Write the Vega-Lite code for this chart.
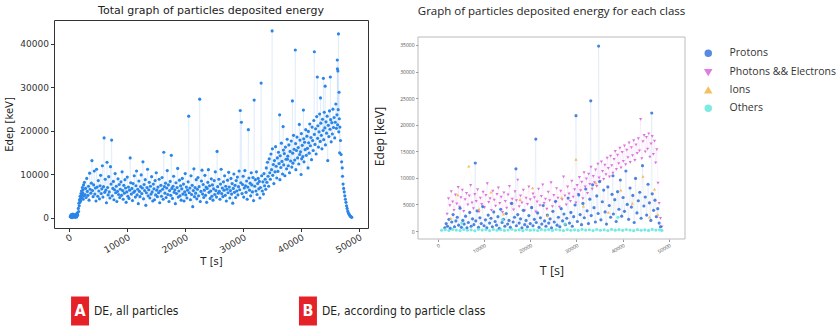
{
  "$schema": "https://vega.github.io/schema/vega-lite/v6.json",
  "background": "white",
  "padding": {"left": 4, "top": 4, "right": 0, "bottom": 0},
  "spacing": 18,
  "config": {
    "view": {"stroke": null},
    "axis": {"grid": false}
  },
  "vconcat": [
    {
      "spacing": 4,
      "hconcat": [
        {
          "width": 314,
          "height": 208,
          "title": {"text": "Total graph of particles deposited energy", "font": "DejaVu Sans", "fontSize": 11, "fontWeight": "normal", "color": "#222", "offset": 4},
          "view": {"stroke": "#333", "strokeWidth": 1},
          "data": {"values": [
            {"t":200,"e":300},{"t":300,"e":600},{"t":350,"e":150},{"t":400,"e":800},{"t":450,"e":400},{"t":500,"e":100},{"t":550,"e":700},{"t":600,"e":350},{"t":650,"e":900},{"t":700,"e":200},{"t":750,"e":500},{"t":800,"e":650},{"t":850,"e":250},{"t":900,"e":450},{"t":950,"e":750},{"t":1000,"e":300},{"t":1050,"e":550},{"t":1100,"e":150},{"t":1150,"e":850},{"t":1200,"e":400},{"t":1250,"e":600},{"t":1300,"e":250},{"t":1350,"e":950},{"t":1400,"e":500},{"t":1450,"e":1200},{"t":1500,"e":700},
            {"t":1600,"e":2200},{"t":1650,"e":1500},{"t":1700,"e":3400},{"t":1750,"e":2800},{"t":1800,"e":4200},{"t":1850,"e":3600},{"t":1900,"e":5000},{"t":1950,"e":4400},{"t":2000,"e":3900},{"t":2050,"e":5600},{"t":2100,"e":4800},{"t":2150,"e":6200},{"t":2200,"e":5300},{"t":2250,"e":4600},{"t":2300,"e":7000},{"t":2350,"e":5800},{"t":2400,"e":6500},{"t":2450,"e":4300},{"t":2500,"e":7600},{"t":2550,"e":5100},
            {"t":2650,"e":8200},{"t":2750,"e":5400},{"t":2850,"e":6800},{"t":2950,"e":4700},{"t":3050,"e":9100},{"t":3150,"e":6100},{"t":3250,"e":5200},{"t":3350,"e":7300},{"t":3450,"e":4100},{"t":3550,"e":10300},{"t":3650,"e":6600},{"t":3750,"e":5700},{"t":3850,"e":8000},{"t":3950,"e":13200},{"t":4050,"e":6300},{"t":4150,"e":4900},{"t":4250,"e":7600},{"t":4350,"e":10800},{"t":4450,"e":5500},{"t":4550,"e":6900},{"t":4650,"e":3900},{"t":4750,"e":11200},{"t":4850,"e":7100},{"t":4950,"e":5000},{"t":5050,"e":8600},{"t":5150,"e":6200},{"t":5250,"e":4400},{"t":5350,"e":7400},{"t":5450,"e":9800},{"t":5550,"e":5600},{"t":5650,"e":6700},{"t":5750,"e":12000},{"t":5850,"e":4800},{"t":5950,"e":7200},{"t":6050,"e":18400},{"t":6150,"e":5900},{"t":6250,"e":8900},{"t":6350,"e":6400},{"t":6450,"e":3500},{"t":6550,"e":12800},{"t":6650,"e":7000},{"t":6750,"e":5300},{"t":6850,"e":9500},{"t":6950,"e":6000},{"t":7050,"e":4600},{"t":7150,"e":11800},{"t":7250,"e":7800},{"t":7350,"e":17900},{"t":7450,"e":5100},{"t":7550,"e":6800},{"t":7650,"e":8400},{"t":7750,"e":4200},{"t":7850,"e":6500},{"t":7950,"e":10200},{"t":8050,"e":5800},{"t":8150,"e":7300},{"t":8250,"e":3800},{"t":8350,"e":6100},{"t":8450,"e":9000},{"t":8550,"e":5400},{"t":8650,"e":7700},{"t":8750,"e":4700},{"t":8850,"e":6600},{"t":8950,"e":8300},{"t":9050,"e":5200},{"t":9150,"e":10600},{"t":9250,"e":6300},{"t":9350,"e":4300},{"t":9450,"e":7500},{"t":9550,"e":5700},{"t":9650,"e":8800},{"t":9750,"e":6900},{"t":9850,"e":3600},{"t":9950,"e":6000},
            {"t":10050,"e":9400},{"t":10150,"e":5000},{"t":10250,"e":7100},{"t":10350,"e":4500},{"t":10450,"e":6400},{"t":10550,"e":13800},{"t":10650,"e":8100},{"t":10750,"e":5500},{"t":10850,"e":6800},{"t":10950,"e":4000},{"t":11050,"e":7900},{"t":11150,"e":5900},{"t":11250,"e":9700},{"t":11350,"e":6200},{"t":11450,"e":4800},{"t":11550,"e":7400},{"t":11650,"e":10800},{"t":11750,"e":5300},{"t":11850,"e":6600},{"t":11950,"e":3300},{"t":12050,"e":8500},{"t":12150,"e":6100},{"t":12250,"e":4900},{"t":12350,"e":7200},{"t":12450,"e":9900},{"t":12550,"e":5600},{"t":12650,"e":6900},{"t":12750,"e":12900},{"t":12850,"e":4400},{"t":12950,"e":7700},{"t":13050,"e":6300},{"t":13150,"e":8800},{"t":13250,"e":2900},{"t":13350,"e":5800},{"t":13450,"e":7000},{"t":13550,"e":11200},{"t":13650,"e":5100},{"t":13750,"e":6500},{"t":13850,"e":8200},{"t":13950,"e":4600},{"t":14050,"e":7300},{"t":14150,"e":5500},{"t":14250,"e":9500},{"t":14350,"e":6000},{"t":14450,"e":3900},{"t":14550,"e":7800},{"t":14650,"e":6700},{"t":14750,"e":4200},{"t":14850,"e":8600},{"t":14950,"e":5300},{"t":15050,"e":10400},{"t":15150,"e":6400},{"t":15250,"e":4900},{"t":15350,"e":7100},{"t":15450,"e":5800},{"t":15550,"e":8900},{"t":15650,"e":3500},{"t":15750,"e":6200},{"t":15850,"e":7500},{"t":15950,"e":5000},{"t":16050,"e":9300},{"t":16150,"e":6600},{"t":16250,"e":4300},{"t":16350,"e":15100},{"t":16450,"e":7200},{"t":16550,"e":5700},{"t":16650,"e":8000},{"t":16750,"e":4700},{"t":16850,"e":6900},{"t":16950,"e":10900},{"t":17050,"e":5400},{"t":17150,"e":7600},{"t":17250,"e":3800},{"t":17350,"e":6300},{"t":17450,"e":8400},{"t":17550,"e":5200},{"t":17650,"e":14400},{"t":17750,"e":6800},{"t":17850,"e":4500},{"t":17950,"e":7300},{"t":18050,"e":9600},{"t":18150,"e":5900},{"t":18250,"e":6500},{"t":18350,"e":3300},{"t":18450,"e":8100},{"t":18550,"e":5600},{"t":18650,"e":7000},{"t":18750,"e":11400},{"t":18850,"e":4800},{"t":18950,"e":6200},{"t":19050,"e":8700},{"t":19150,"e":5100},{"t":19250,"e":7400},{"t":19350,"e":4100},{"t":19450,"e":6700},{"t":19550,"e":9100},{"t":19650,"e":5500},{"t":19750,"e":7800},{"t":19850,"e":3900},{"t":19950,"e":6000},
            {"t":20050,"e":10200},{"t":20150,"e":5300},{"t":20250,"e":7100},{"t":20350,"e":4600},{"t":20450,"e":6400},{"t":20550,"e":8300},{"t":20650,"e":23400},{"t":20750,"e":5800},{"t":20850,"e":6900},{"t":20950,"e":4200},{"t":21050,"e":9700},{"t":21150,"e":5400},{"t":21250,"e":7500},{"t":21350,"e":2600},{"t":21450,"e":6300},{"t":21550,"e":11300},{"t":21650,"e":4900},{"t":21750,"e":7000},{"t":21850,"e":5700},{"t":21950,"e":8800},{"t":22050,"e":4400},{"t":22150,"e":6600},{"t":22250,"e":9300},{"t":22350,"e":5100},{"t":22450,"e":7200},{"t":22550,"e":27300},{"t":22650,"e":3800},{"t":22750,"e":6100},{"t":22850,"e":8500},{"t":22950,"e":11000},{"t":23050,"e":5500},{"t":23150,"e":7700},{"t":23250,"e":4700},{"t":23350,"e":6400},{"t":23450,"e":9800},{"t":23550,"e":5200},{"t":23650,"e":7100},{"t":23750,"e":3600},{"t":23850,"e":6800},{"t":23950,"e":8200},{"t":24050,"e":11100},{"t":24150,"e":5900},{"t":24250,"e":7400},{"t":24350,"e":4500},{"t":24450,"e":6200},{"t":24550,"e":9000},{"t":24650,"e":5000},{"t":24750,"e":7600},{"t":24850,"e":4100},{"t":24950,"e":6700},{"t":25050,"e":8600},{"t":25150,"e":5400},{"t":25250,"e":10600},{"t":25350,"e":6300},{"t":25450,"e":4800},{"t":25550,"e":15300},{"t":25650,"e":7200},{"t":25750,"e":5700},{"t":25850,"e":8900},{"t":25950,"e":6100},{"t":26050,"e":4300},{"t":26150,"e":7800},{"t":26250,"e":11200},{"t":26350,"e":5600},{"t":26450,"e":6900},{"t":26550,"e":4900},{"t":26650,"e":8300},{"t":26750,"e":6400},{"t":26850,"e":9700},{"t":26950,"e":5200},{"t":27050,"e":7300},{"t":27150,"e":3900},{"t":27250,"e":6600},{"t":27350,"e":8700},{"t":27450,"e":5800},{"t":27550,"e":10500},{"t":27650,"e":7100},{"t":27750,"e":4600},{"t":27850,"e":6300},{"t":27950,"e":9100},{"t":28050,"e":5500},{"t":28150,"e":7900},{"t":28250,"e":3400},{"t":28350,"e":6800},{"t":28450,"e":10100},{"t":28550,"e":5900},{"t":28650,"e":7500},{"t":28750,"e":4700},{"t":28850,"e":8600},{"t":28950,"e":6200},{"t":29050,"e":9400},{"t":29150,"e":5300},{"t":29250,"e":7200},{"t":29350,"e":10800},{"t":29450,"e":6500},{"t":29550,"e":24700},{"t":29650,"e":8100},{"t":29750,"e":22000},{"t":29850,"e":5600},{"t":29950,"e":7700},
            {"t":30050,"e":9600},{"t":30150,"e":4800},{"t":30250,"e":6900},{"t":30350,"e":10900},{"t":30450,"e":7400},{"t":30550,"e":5900},{"t":30650,"e":8500},{"t":30750,"e":4300},{"t":30850,"e":7100},{"t":30950,"e":20300},{"t":31050,"e":9200},{"t":31150,"e":6400},{"t":31250,"e":8000},{"t":31350,"e":5100},{"t":31450,"e":10400},{"t":31550,"e":7600},{"t":31650,"e":6000},{"t":31750,"e":9300},{"t":31850,"e":4000},{"t":31950,"e":27100},{"t":32050,"e":7300},{"t":32150,"e":8800},{"t":32250,"e":6200},{"t":32350,"e":10600},{"t":32450,"e":5400},{"t":32550,"e":7900},{"t":32650,"e":9100},{"t":32750,"e":6700},{"t":32850,"e":8400},{"t":32950,"e":4600},{"t":33050,"e":7000},{"t":33150,"e":31000},{"t":33250,"e":9700},{"t":33350,"e":6200},{"t":33450,"e":8300},{"t":33550,"e":5500},{"t":33650,"e":10200},{"t":33750,"e":7400},{"t":33850,"e":8900},{"t":33950,"e":6600},
            {"t":34050,"e":11500},{"t":34150,"e":8200},{"t":34250,"e":12800},{"t":34350,"e":9600},{"t":34450,"e":7300},{"t":34550,"e":13600},{"t":34650,"e":10400},{"t":34750,"e":8900},{"t":34850,"e":14700},{"t":34950,"e":11100},{"t":35050,"e":43000},{"t":35100,"e":15900},{"t":35150,"e":9800},{"t":35250,"e":12300},{"t":35350,"e":7900},{"t":35450,"e":13200},{"t":35550,"e":10600},{"t":35650,"e":16400},{"t":35750,"e":11900},{"t":35850,"e":9200},{"t":35950,"e":13800},{"t":36050,"e":10700},{"t":36150,"e":15100},{"t":36250,"e":12500},{"t":36350,"e":23700},{"t":36400,"e":8800},{"t":36450,"e":14300},{"t":36550,"e":11600},{"t":36650,"e":17200},{"t":36750,"e":13000},{"t":36850,"e":10100},{"t":36950,"e":21000},{"t":37000,"e":15600},{"t":37050,"e":12200},{"t":37150,"e":14800},{"t":37250,"e":9700},{"t":37350,"e":16300},{"t":37450,"e":13500},{"t":37550,"e":11300},{"t":37650,"e":18100},{"t":37700,"e":13500},{"t":37750,"e":14200},{"t":37850,"e":12000},{"t":37950,"e":16800},{"t":38050,"e":10400},{"t":38150,"e":15300},{"t":38250,"e":13100},{"t":38350,"e":17700},{"t":38450,"e":11700},{"t":38550,"e":26900},{"t":38600,"e":14900},{"t":38650,"e":12600},{"t":38750,"e":19000},{"t":38850,"e":15800},{"t":38950,"e":13300},{"t":39050,"e":38600},{"t":39100,"e":17100},{"t":39150,"e":11100},{"t":39250,"e":15500},{"t":39350,"e":18600},{"t":39450,"e":13800},{"t":39550,"e":16200},{"t":39650,"e":12400},{"t":39750,"e":21500},{"t":39800,"e":14600},{"t":39850,"e":17900},{"t":39950,"e":15200},
            {"t":40050,"e":10000},{"t":40100,"e":19400},{"t":40150,"e":13600},{"t":40250,"e":16700},{"t":40350,"e":14100},{"t":40450,"e":24800},{"t":40500,"e":18200},{"t":40550,"e":12900},{"t":40650,"e":17400},{"t":40750,"e":15700},{"t":40850,"e":20300},{"t":40950,"e":14400},{"t":41050,"e":18800},{"t":41150,"e":16000},{"t":41250,"e":11500},{"t":41300,"e":19900},{"t":41350,"e":17300},{"t":41450,"e":14900},{"t":41550,"e":21600},{"t":41650,"e":16600},{"t":41750,"e":18500},{"t":41850,"e":13400},{"t":41950,"e":20900},{"t":42050,"e":17800},{"t":42150,"e":15500},{"t":42250,"e":22400},{"t":42340,"e":38200},{"t":42350,"e":19200},{"t":42450,"e":16900},{"t":42550,"e":20500},{"t":42650,"e":14700},{"t":42750,"e":23300},{"t":42850,"e":32400},{"t":42900,"e":18300},{"t":42950,"e":21200},{"t":43050,"e":16300},{"t":43150,"e":19800},{"t":43250,"e":23900},{"t":43350,"e":17600},{"t":43400,"e":27600},{"t":43450,"e":21800},{"t":43550,"e":19000},{"t":43650,"e":15900},{"t":43750,"e":22700},{"t":43850,"e":20100},{"t":43900,"e":32100},{"t":43950,"e":18000},{"t":44050,"e":24300},{"t":44150,"e":20700},{"t":44200,"e":30300},{"t":44250,"e":16800},{"t":44350,"e":22100},{"t":44450,"e":19500},{"t":44550,"e":23400},{"t":44650,"e":13200},{"t":44750,"e":21300},{"t":44850,"e":18700},{"t":44950,"e":24600},{"t":45050,"e":20400},{"t":45100,"e":32400},{"t":45150,"e":22600},{"t":45250,"e":17500},{"t":45350,"e":21900},{"t":45450,"e":19300},{"t":45550,"e":25000},{"t":45650,"e":20800},{"t":45750,"e":23100},{"t":45850,"e":18400},{"t":45950,"e":22000},{"t":46050,"e":26200},{"t":46150,"e":20600},{"t":46250,"e":23700},{"t":46300,"e":36300},{"t":46320,"e":34300},{"t":46350,"e":21400},{"t":46400,"e":33800},{"t":46450,"e":24900},{"t":46500,"e":42300},{"t":46550,"e":19800},{"t":46600,"e":28900},{"t":46650,"e":22800},{"t":46700,"e":15000},{"t":46750,"e":20900},{"t":46850,"e":17800},
            {"t":46950,"e":14600},{"t":47050,"e":12900},{"t":47150,"e":11500},{"t":47200,"e":9600},{"t":47300,"e":7800},{"t":47400,"e":6800},{"t":47500,"e":6000},{"t":47600,"e":5100},{"t":47700,"e":4300},{"t":47800,"e":3600},{"t":47900,"e":2800},{"t":48000,"e":2200},{"t":48100,"e":1600},{"t":48200,"e":1200},{"t":48300,"e":900},{"t":48400,"e":700},{"t":48500,"e":500},{"t":48600,"e":350},{"t":48700,"e":250},{"t":48800,"e":150}
          ]},
          "encoding": {
            "x": {"field": "t", "type": "quantitative",
              "scale": {"domain": [-2600, 51600], "nice": false, "zero": false},
              "axis": {"title": "T [s]", "values": [0, 10000, 20000, 30000, 40000, 50000], "format": "d", "labelAngle": -30,
                "labelFont": "DejaVu Sans", "labelFontSize": 9, "labelColor": "#333", "labelPadding": 1,
                "titleFont": "DejaVu Sans", "titleFontSize": 10, "titleFontWeight": "normal", "titleColor": "#222", "titlePadding": 2,
                "tickSize": 3.5, "tickColor": "#333", "domain": false}},
            "y": {"field": "e", "type": "quantitative",
              "scale": {"domain": [-2300, 45500], "nice": false, "zero": false},
              "axis": {"title": "Edep [keV]", "values": [0, 10000, 20000, 30000, 40000], "format": "d",
                "labelFont": "DejaVu Sans", "labelFontSize": 9, "labelColor": "#333", "labelPadding": 2,
                "titleFont": "DejaVu Sans", "titleFontSize": 10, "titleFontWeight": "normal", "titleColor": "#222", "titlePadding": 5,
                "tickSize": 3.5, "tickColor": "#333", "domain": false}}
          },
          "layer": [
            {"mark": {"type": "line", "color": "#2a85e8", "opacity": 0.08, "strokeWidth": 1}, "encoding": {}},
            {"mark": {"type": "circle", "color": "#2a85e8", "size": 10, "opacity": 1}}
          ]
        },
        {
          "width": 267,
          "height": 219,
          "title": {"text": "Graph of particles deposited energy for each class", "font": "Open Sans", "fontSize": 11.5, "fontWeight": "normal", "color": "#222", "offset": 3},
          "layer": [
            {
              "data": {"values": [
                {"t":2000,"e":3200,"c":"E"},{"t":2300,"e":6100,"c":"E"},{"t":2600,"e":4800,"c":"E"},{"t":2900,"e":7400,"c":"E"},{"t":3200,"e":5500,"c":"E"},{"t":3500,"e":3900,"c":"E"},{"t":3800,"e":6800,"c":"E"},{"t":4100,"e":5100,"c":"E"},{"t":4400,"e":8200,"c":"E"},{"t":4700,"e":4500,"c":"E"},{"t":5000,"e":6300,"c":"E"},{"t":5300,"e":7700,"c":"E"},{"t":5600,"e":3700,"c":"E"},{"t":5900,"e":5900,"c":"E"},{"t":6200,"e":7100,"c":"E"},{"t":6500,"e":4900,"c":"E"},{"t":6800,"e":6600,"c":"E"},{"t":7100,"e":8600,"c":"E"},{"t":7400,"e":5300,"c":"E"},{"t":7700,"e":4200,"c":"E"},{"t":8000,"e":6900,"c":"E"},{"t":8300,"e":5600,"c":"E"},{"t":8600,"e":7800,"c":"E"},{"t":8900,"e":3600,"c":"E"},{"t":9200,"e":6200,"c":"E"},{"t":9500,"e":5000,"c":"E"},{"t":9800,"e":7300,"c":"E"},{"t":10100,"e":4400,"c":"E"},{"t":10400,"e":6700,"c":"E"},{"t":10700,"e":8900,"c":"E"},{"t":11000,"e":5400,"c":"E"},{"t":11300,"e":6100,"c":"E"},{"t":11600,"e":3900,"c":"E"},{"t":11900,"e":7500,"c":"E"},{"t":12200,"e":5800,"c":"E"},{"t":12500,"e":4700,"c":"E"},{"t":12800,"e":6900,"c":"E"},{"t":13100,"e":8100,"c":"E"},{"t":13400,"e":5200,"c":"E"},{"t":13700,"e":6400,"c":"E"},{"t":14000,"e":3500,"c":"E"},{"t":14300,"e":7200,"c":"E"},{"t":14600,"e":5600,"c":"E"},{"t":14900,"e":4300,"c":"E"},{"t":15200,"e":6800,"c":"E"},{"t":15500,"e":8400,"c":"E"},{"t":15800,"e":5100,"c":"E"},{"t":16100,"e":6000,"c":"E"},{"t":16400,"e":4000,"c":"E"},{"t":16700,"e":7400,"c":"E"},{"t":17000,"e":5700,"c":"E"},{"t":17300,"e":9600,"c":"E"},{"t":17600,"e":4600,"c":"E"},{"t":17900,"e":6600,"c":"E"},{"t":18200,"e":5300,"c":"E"},{"t":18500,"e":7700,"c":"E"},{"t":18800,"e":3800,"c":"E"},{"t":19100,"e":6200,"c":"E"},{"t":19400,"e":5000,"c":"E"},{"t":19700,"e":8300,"c":"E"},{"t":20000,"e":5900,"c":"E"},{"t":20300,"e":4400,"c":"E"},{"t":20600,"e":7000,"c":"E"},{"t":20900,"e":6300,"c":"E"},{"t":21200,"e":3600,"c":"E"},{"t":21500,"e":5500,"c":"E"},{"t":21800,"e":7900,"c":"E"},{"t":22100,"e":4800,"c":"E"},{"t":22400,"e":6500,"c":"E"},{"t":22700,"e":8700,"c":"E"},{"t":23000,"e":5200,"c":"E"},{"t":23300,"e":6000,"c":"E"},{"t":23600,"e":4100,"c":"E"},{"t":23900,"e":7300,"c":"E"},{"t":24200,"e":5700,"c":"E"},{"t":24500,"e":9100,"c":"E"},{"t":24800,"e":4600,"c":"E"},{"t":25100,"e":6700,"c":"E"},{"t":25400,"e":5400,"c":"E"},{"t":25700,"e":8000,"c":"E"},{"t":26000,"e":6200,"c":"E"},{"t":26300,"e":4500,"c":"E"},{"t":26600,"e":7500,"c":"E"},{"t":26900,"e":5900,"c":"E"},{"t":27200,"e":10200,"c":"E"},{"t":27500,"e":6600,"c":"E"},{"t":27800,"e":4900,"c":"E"},{"t":28100,"e":8300,"c":"E"},{"t":28400,"e":7000,"c":"E"},{"t":28700,"e":5600,"c":"E"},{"t":29000,"e":9400,"c":"E"},{"t":29300,"e":6400,"c":"E"},{"t":29600,"e":7800,"c":"E"},{"t":29900,"e":5300,"c":"E"},
                {"t":30150,"e":8600,"c":"E"},{"t":30400,"e":6900,"c":"E"},{"t":30650,"e":10100,"c":"E"},{"t":30900,"e":7600,"c":"E"},{"t":31150,"e":9200,"c":"E"},{"t":31400,"e":6100,"c":"E"},{"t":31650,"e":11000,"c":"E"},{"t":31900,"e":8300,"c":"E"},{"t":32150,"e":9800,"c":"E"},{"t":32400,"e":7100,"c":"E"},{"t":32650,"e":10700,"c":"E"},{"t":32900,"e":8800,"c":"E"},{"t":33150,"e":12000,"c":"E"},{"t":33400,"e":7900,"c":"E"},{"t":33650,"e":10300,"c":"E"},{"t":33900,"e":9100,"c":"E"},{"t":34150,"e":11500,"c":"E"},{"t":34400,"e":8400,"c":"E"},{"t":34650,"e":12600,"c":"E"},{"t":34900,"e":10000,"c":"E"},{"t":35150,"e":9300,"c":"E"},{"t":35400,"e":13000,"c":"E"},{"t":35650,"e":11200,"c":"E"},{"t":35900,"e":9700,"c":"E"},{"t":36150,"e":12400,"c":"E"},{"t":36400,"e":10600,"c":"E"},{"t":36650,"e":13700,"c":"E"},{"t":36900,"e":11800,"c":"E"},{"t":37150,"e":10200,"c":"E"},{"t":37400,"e":14100,"c":"E"},{"t":37650,"e":12300,"c":"E"},{"t":37900,"e":10900,"c":"E"},{"t":38150,"e":13500,"c":"E"},{"t":38400,"e":15000,"c":"E"},{"t":38650,"e":11600,"c":"E"},{"t":38900,"e":14300,"c":"E"},{"t":39150,"e":12700,"c":"E"},{"t":39400,"e":15600,"c":"E"},{"t":39650,"e":11900,"c":"E"},{"t":39900,"e":14800,"c":"E"},{"t":40150,"e":13100,"c":"E"},{"t":40400,"e":16000,"c":"E"},{"t":40650,"e":12500,"c":"E"},{"t":40900,"e":15200,"c":"E"},{"t":41150,"e":13800,"c":"E"},{"t":41400,"e":16600,"c":"E"},{"t":41650,"e":12900,"c":"E"},{"t":41900,"e":15700,"c":"E"},{"t":42150,"e":14200,"c":"E"},{"t":42400,"e":17000,"c":"E"},{"t":42650,"e":13300,"c":"E"},{"t":42900,"e":16200,"c":"E"},{"t":43150,"e":14600,"c":"E"},{"t":43400,"e":17400,"c":"E"},{"t":43650,"e":15100,"c":"E"},{"t":43900,"e":21000,"c":"E"},{"t":44150,"e":13600,"c":"E"},{"t":44400,"e":16800,"c":"E"},{"t":44650,"e":18000,"c":"E"},{"t":44900,"e":14900,"c":"E"},{"t":45150,"e":17600,"c":"E"},{"t":45400,"e":15400,"c":"E"},{"t":45650,"e":18300,"c":"E"},{"t":45900,"e":13900,"c":"E"},{"t":46150,"e":16400,"c":"E"},{"t":46400,"e":17800,"c":"E"},{"t":46650,"e":14400,"c":"E"},{"t":46900,"e":16900,"c":"E"},{"t":47150,"e":12800,"c":"E"},{"t":47400,"e":15300,"c":"E"},{"t":47650,"e":9000,"c":"E"},{"t":47900,"e":5200,"c":"E"},{"t":48200,"e":2400,"c":"E"},{"t":48500,"e":800,"c":"E"},
                {"t":1500,"e":600,"c":"P"},{"t":1800,"e":1400,"c":"P"},{"t":2100,"e":900,"c":"P"},{"t":2400,"e":2200,"c":"P"},{"t":2700,"e":500,"c":"P"},{"t":3000,"e":1700,"c":"P"},{"t":3300,"e":3100,"c":"P"},{"t":3600,"e":800,"c":"P"},{"t":3900,"e":1900,"c":"P"},{"t":4200,"e":2600,"c":"P"},{"t":4500,"e":1100,"c":"P"},{"t":4800,"e":4300,"c":"P"},{"t":5100,"e":700,"c":"P"},{"t":5400,"e":2000,"c":"P"},{"t":5700,"e":1300,"c":"P"},{"t":6000,"e":2800,"c":"P"},{"t":6300,"e":600,"c":"P"},{"t":6600,"e":1600,"c":"P"},{"t":6900,"e":3500,"c":"P"},{"t":7200,"e":900,"c":"P"},{"t":7500,"e":2300,"c":"P"},{"t":7800,"e":1200,"c":"P"},{"t":8100,"e":12800,"c":"P"},{"t":8200,"e":1900,"c":"P"},{"t":8500,"e":3800,"c":"P"},{"t":8800,"e":700,"c":"P"},{"t":9100,"e":2500,"c":"P"},{"t":9400,"e":1400,"c":"P"},{"t":9700,"e":4600,"c":"P"},{"t":10000,"e":1000,"c":"P"},{"t":10300,"e":2100,"c":"P"},{"t":10600,"e":600,"c":"P"},{"t":10900,"e":3000,"c":"P"},{"t":11200,"e":1500,"c":"P"},{"t":11500,"e":2400,"c":"P"},{"t":11800,"e":800,"c":"P"},{"t":12100,"e":3600,"c":"P"},{"t":12400,"e":1800,"c":"P"},{"t":12700,"e":1100,"c":"P"},{"t":13000,"e":2700,"c":"P"},{"t":13300,"e":500,"c":"P"},{"t":13600,"e":4100,"c":"P"},{"t":13900,"e":1600,"c":"P"},{"t":14200,"e":2200,"c":"P"},{"t":14500,"e":900,"c":"P"},{"t":14800,"e":3300,"c":"P"},{"t":15100,"e":1300,"c":"P"},{"t":15400,"e":2000,"c":"P"},{"t":15700,"e":700,"c":"P"},{"t":16000,"e":5200,"c":"P"},{"t":16300,"e":1700,"c":"P"},{"t":16600,"e":2600,"c":"P"},{"t":16900,"e":11700,"c":"P"},{"t":17000,"e":1000,"c":"P"},{"t":17300,"e":3100,"c":"P"},{"t":17600,"e":1500,"c":"P"},{"t":17900,"e":2300,"c":"P"},{"t":18200,"e":600,"c":"P"},{"t":18500,"e":3900,"c":"P"},{"t":18800,"e":1200,"c":"P"},{"t":19100,"e":2000,"c":"P"},{"t":19400,"e":800,"c":"P"},{"t":19700,"e":2900,"c":"P"},{"t":20000,"e":1400,"c":"P"},{"t":20300,"e":4400,"c":"P"},{"t":20600,"e":1000,"c":"P"},{"t":20900,"e":2200,"c":"P"},{"t":21200,"e":17300,"c":"P"},{"t":21300,"e":1600,"c":"P"},{"t":21600,"e":3400,"c":"P"},{"t":21900,"e":700,"c":"P"},{"t":22200,"e":2500,"c":"P"},{"t":22500,"e":1300,"c":"P"},{"t":22800,"e":4800,"c":"P"},{"t":23100,"e":1900,"c":"P"},{"t":23400,"e":900,"c":"P"},{"t":23700,"e":3000,"c":"P"},{"t":24000,"e":1500,"c":"P"},{"t":24300,"e":2300,"c":"P"},{"t":24600,"e":600,"c":"P"},{"t":24900,"e":3700,"c":"P"},{"t":25200,"e":1700,"c":"P"},{"t":25500,"e":5600,"c":"P"},{"t":25800,"e":1100,"c":"P"},{"t":26100,"e":2600,"c":"P"},{"t":26400,"e":800,"c":"P"},{"t":26700,"e":4200,"c":"P"},{"t":27000,"e":1900,"c":"P"},{"t":27300,"e":3200,"c":"P"},{"t":27600,"e":1200,"c":"P"},{"t":27900,"e":2400,"c":"P"},{"t":28200,"e":6200,"c":"P"},{"t":28500,"e":1500,"c":"P"},{"t":28800,"e":3500,"c":"P"},{"t":29100,"e":900,"c":"P"},{"t":29400,"e":2700,"c":"P"},{"t":29700,"e":4900,"c":"P"},{"t":29900,"e":21700,"c":"P"},
                {"t":30200,"e":1800,"c":"P"},{"t":30500,"e":6800,"c":"P"},{"t":30800,"e":3100,"c":"P"},{"t":31100,"e":1200,"c":"P"},{"t":31400,"e":5200,"c":"P"},{"t":31700,"e":2500,"c":"P"},{"t":32000,"e":7900,"c":"P"},{"t":32300,"e":3800,"c":"P"},{"t":32600,"e":1400,"c":"P"},{"t":32900,"e":6000,"c":"P"},{"t":33100,"e":24500,"c":"P"},{"t":33200,"e":2900,"c":"P"},{"t":33500,"e":8700,"c":"P"},{"t":33800,"e":4400,"c":"P"},{"t":34100,"e":1700,"c":"P"},{"t":34400,"e":6600,"c":"P"},{"t":34700,"e":3300,"c":"P"},{"t":34800,"e":34800,"c":"P"},{"t":35000,"e":9300,"c":"P"},{"t":35300,"e":2100,"c":"P"},{"t":35600,"e":5500,"c":"P"},{"t":35900,"e":7700,"c":"P"},{"t":36200,"e":3600,"c":"P"},{"t":36500,"e":1300,"c":"P"},{"t":36800,"e":8300,"c":"P"},{"t":37100,"e":4800,"c":"P"},{"t":37400,"e":2600,"c":"P"},{"t":37700,"e":6900,"c":"P"},{"t":37900,"e":10400,"c":"P"},{"t":38000,"e":3200,"c":"P"},{"t":38300,"e":5900,"c":"P"},{"t":38600,"e":1800,"c":"P"},{"t":38900,"e":7400,"c":"P"},{"t":39200,"e":4100,"c":"P"},{"t":39500,"e":9600,"c":"P"},{"t":39800,"e":2800,"c":"P"},{"t":40100,"e":6300,"c":"P"},{"t":40400,"e":3700,"c":"P"},{"t":40700,"e":11300,"c":"P"},{"t":41000,"e":5000,"c":"P"},{"t":41300,"e":2200,"c":"P"},{"t":41600,"e":8100,"c":"P"},{"t":41900,"e":4500,"c":"P"},{"t":42200,"e":6700,"c":"P"},{"t":42500,"e":1600,"c":"P"},{"t":42800,"e":9900,"c":"P"},{"t":43100,"e":3400,"c":"P"},{"t":43400,"e":5700,"c":"P"},{"t":43700,"e":7300,"c":"P"},{"t":44000,"e":2400,"c":"P"},{"t":44300,"e":12300,"c":"P"},{"t":44600,"e":4700,"c":"P"},{"t":44900,"e":6400,"c":"P"},{"t":45200,"e":3000,"c":"P"},{"t":45500,"e":8800,"c":"P"},{"t":45800,"e":5300,"c":"P"},{"t":46100,"e":2000,"c":"P"},{"t":46300,"e":22200,"c":"P"},{"t":46400,"e":7000,"c":"P"},{"t":46700,"e":3900,"c":"P"},{"t":47000,"e":5800,"c":"P"},{"t":47300,"e":2700,"c":"P"},{"t":47600,"e":4200,"c":"P"},{"t":47900,"e":1500,"c":"P"},{"t":48200,"e":800,"c":"P"},
                {"t":2800,"e":2400,"c":"I"},{"t":4300,"e":6800,"c":"I"},{"t":6700,"e":12200,"c":"I"},{"t":8900,"e":4100,"c":"I"},{"t":11500,"e":7300,"c":"I"},{"t":14200,"e":3200,"c":"I"},{"t":17800,"e":5900,"c":"I"},{"t":20500,"e":8100,"c":"I"},{"t":23700,"e":2900,"c":"I"},{"t":26800,"e":6300,"c":"I"},{"t":29900,"e":13500,"c":"I"},{"t":31500,"e":4700,"c":"I"},{"t":34200,"e":9000,"c":"I"},{"t":36900,"e":3500,"c":"I"},{"t":39600,"e":7700,"c":"I"},{"t":42100,"e":5200,"c":"I"},{"t":44400,"e":10300,"c":"I"},{"t":45800,"e":2600,"c":"I"},{"t":46900,"e":7900,"c":"I"},{"t":47600,"e":3100,"c":"I"},
                {"t":800,"e":150,"c":"O"},{"t":1600,"e":250,"c":"O"},{"t":2400,"e":100,"c":"O"},{"t":3200,"e":300,"c":"O"},{"t":4000,"e":180,"c":"O"},{"t":4800,"e":80,"c":"O"},{"t":5200,"e":1500,"c":"O"},{"t":5600,"e":280,"c":"O"},{"t":6400,"e":140,"c":"O"},{"t":7200,"e":220,"c":"O"},{"t":8000,"e":60,"c":"O"},{"t":8800,"e":320,"c":"O"},{"t":9600,"e":170,"c":"O"},{"t":10400,"e":240,"c":"O"},{"t":11200,"e":90,"c":"O"},{"t":12000,"e":300,"c":"O"},{"t":12800,"e":150,"c":"O"},{"t":13600,"e":260,"c":"O"},{"t":14000,"e":2100,"c":"O"},{"t":14400,"e":110,"c":"O"},{"t":15200,"e":200,"c":"O"},{"t":16000,"e":330,"c":"O"},{"t":16800,"e":130,"c":"O"},{"t":17600,"e":230,"c":"O"},{"t":18400,"e":70,"c":"O"},{"t":19200,"e":290,"c":"O"},{"t":20000,"e":160,"c":"O"},{"t":20800,"e":210,"c":"O"},{"t":21600,"e":100,"c":"O"},{"t":22400,"e":310,"c":"O"},{"t":23200,"e":180,"c":"O"},{"t":24000,"e":250,"c":"O"},{"t":24800,"e":120,"c":"O"},{"t":25600,"e":280,"c":"O"},{"t":26400,"e":190,"c":"O"},{"t":27200,"e":90,"c":"O"},{"t":27500,"e":1300,"c":"O"},{"t":28000,"e":270,"c":"O"},{"t":28800,"e":150,"c":"O"},{"t":29600,"e":230,"c":"O"},{"t":30400,"e":110,"c":"O"},{"t":31200,"e":300,"c":"O"},{"t":32000,"e":170,"c":"O"},{"t":32800,"e":240,"c":"O"},{"t":33600,"e":80,"c":"O"},{"t":34400,"e":290,"c":"O"},{"t":35200,"e":140,"c":"O"},{"t":36000,"e":220,"c":"O"},{"t":36800,"e":100,"c":"O"},{"t":37600,"e":310,"c":"O"},{"t":38400,"e":160,"c":"O"},{"t":39000,"e":2600,"c":"O"},{"t":39200,"e":250,"c":"O"},{"t":40000,"e":130,"c":"O"},{"t":40800,"e":280,"c":"O"},{"t":41600,"e":190,"c":"O"},{"t":42400,"e":70,"c":"O"},{"t":43200,"e":260,"c":"O"},{"t":44000,"e":150,"c":"O"},{"t":44800,"e":230,"c":"O"},{"t":45600,"e":110,"c":"O"},{"t":46400,"e":300,"c":"O"},{"t":47200,"e":170,"c":"O"},{"t":48000,"e":220,"c":"O"},{"t":48500,"e":120,"c":"O"}
              ]},
              "transform": [
                {"lookup": "c", "from": {"data": {"values": [
                  {"c": "P", "cls": "Protons"},
                  {"c": "E", "cls": "Photons && Electrons"},
                  {"c": "I", "cls": "Ions"},
                  {"c": "O", "cls": "Others"}
                ]}, "key": "c", "fields": ["cls"]}}
              ],
              "encoding": {
                "x": {"field": "t", "type": "quantitative",
                  "scale": {"domain": [-4300, 53500], "nice": false, "zero": false},
                  "axis": {"title": "T [s]", "values": [0, 10000, 20000, 30000, 40000, 50000], "format": "d", "labelAngle": -30,
                    "labelFont": "Open Sans", "labelFontSize": 5, "labelColor": "#555", "labelPadding": 1,
                    "titleFont": "Open Sans", "titleFontSize": 12.5, "titleFontWeight": "normal", "titleColor": "#222", "titlePadding": 11,
                    "tickSize": 2.5, "tickColor": "#999", "domain": false}},
                "y": {"field": "e", "type": "quantitative",
                  "scale": {"domain": [-1500, 39700], "nice": false, "zero": false},
                  "axis": {"title": "Edep [keV]", "values": [0, 5000, 10000, 15000, 20000, 25000, 30000, 35000], "format": "d", "labelOverlap": false,
                    "labelFont": "Open Sans", "labelFontSize": 5, "labelColor": "#555", "labelPadding": 1.5,
                    "titleFont": "Open Sans", "titleFontSize": 12, "titleFontWeight": "normal", "titleColor": "#222", "titlePadding": 13, "titleY": 116,
                    "tickSize": 2.5, "tickColor": "#999", "domain": false}},
                "color": {"field": "cls", "type": "nominal",
                  "scale": {"domain": ["Protons", "Photons && Electrons", "Ions", "Others"], "range": ["#2f6fd9", "#d65ed6", "#f0b43c", "#5ee6dc"]},
                  "legend": {"title": null, "orient": "none", "legendX": 649, "legendY": 28, "labelFont": "Open Sans", "labelFontSize": 10.5, "labelColor": "#333", "symbolSize": 36, "symbolType": "circle", "rowPadding": 6, "labelOffset": 16, "symbolOpacity": 0.8}}
              },
              "layer": [
                {"mark": {"type": "line", "opacity": 0.08, "strokeWidth": 1}, "encoding": {}},
                {
                  "mark": {"type": "point", "filled": true, "size": 10, "opacity": 0.85},
                  "encoding": {
                    "shape": {"field": "cls", "type": "nominal",
                      "scale": {"domain": ["Protons", "Photons && Electrons", "Ions", "Others"], "range": ["circle", "triangle-down", "triangle-up", "circle"]},
                      "legend": null}
                  }
                }
              ]
            },
            {
              "data": {"values": [{"tmin": -4300, "tmax": 53500, "emin": -1500, "emax": 36500}]},
              "mark": {"type": "rect", "fill": null, "stroke": "#bbb", "strokeWidth": 1},
              "encoding": {
                "x": {"field": "tmin", "type": "quantitative",
                  "scale": {"domain": [-4300, 53500], "nice": false, "zero": false},
                  "axis": {"title": "T [s]", "values": [0, 10000, 20000, 30000, 40000, 50000], "format": "d", "labelAngle": -30,
                    "labelFont": "Open Sans", "labelFontSize": 5, "labelColor": "#555", "labelPadding": 1,
                    "titleFont": "Open Sans", "titleFontSize": 12.5, "titleFontWeight": "normal", "titleColor": "#222", "titlePadding": 11,
                    "tickSize": 2.5, "tickColor": "#999", "domain": false}},
                "x2": {"field": "tmax"},
                "y": {"field": "emin", "type": "quantitative",
                  "scale": {"domain": [-1500, 39700], "nice": false, "zero": false},
                  "axis": {"title": "Edep [keV]", "values": [0, 5000, 10000, 15000, 20000, 25000, 30000, 35000], "format": "d", "labelOverlap": false,
                    "labelFont": "Open Sans", "labelFontSize": 5, "labelColor": "#555", "labelPadding": 1.5,
                    "titleFont": "Open Sans", "titleFontSize": 12, "titleFontWeight": "normal", "titleColor": "#222", "titlePadding": 13, "titleY": 116,
                    "tickSize": 2.5, "tickColor": "#999", "domain": false}},
                "y2": {"field": "emax"}
              }
            }
          ]
        }
      ]
    },
    {
      "width": 280,
      "height": 30,
      "view": {"stroke": null},
      "data": {"values": [
        {"panel": "A", "caption": "DE, all particles"},
        {"panel": "B", "caption": "DE, according to particle class"}
      ]},
      "encoding": {
        "x": {"field": "panel", "type": "nominal", "scale": {"type": "point", "padding": 0.1143}, "axis": null}
      },
      "layer": [
        {"mark": {"type": "point", "shape": "M-0.62,-1H0.62V1H-0.62Z", "filled": true, "color": "#e52228", "size": 841, "opacity": 1}},
        {"mark": {"type": "text", "color": "white", "font": "DejaVu Sans Condensed", "fontSize": 16, "fontWeight": "bold", "baseline": "middle", "align": "center"},
         "encoding": {"text": {"field": "panel"}}},
        {"mark": {"type": "text", "color": "#231f20", "font": "DejaVu Sans Condensed", "fontSize": 12, "baseline": "middle", "align": "left", "dx": 14},
         "encoding": {"text": {"field": "caption"}}}
      ]
    }
  ]
}
